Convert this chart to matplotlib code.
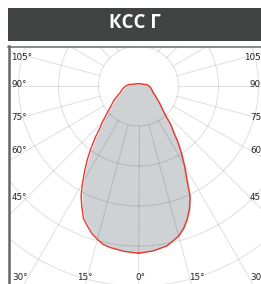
import numpy as np
import matplotlib
matplotlib.use("Agg")
import matplotlib.pyplot as plt
from matplotlib.patches import Rectangle
from matplotlib.lines import Line2D
import matplotlib.transforms as mtransforms

# ---- data (cd/klm) ----
angles_deg = [0, 5, 10, 12.5, 15, 17.5, 20, 22.5, 25, 27.5, 30, 32.5, 35, 37.5,
              40, 42.5, 45, 50, 55, 60, 65, 70, 75, 80, 85, 90, 95, 100, 110,
              120, 135, 150, 165, 180]
right_vals = [418, 414, 406, 397, 388, 374, 355, 333, 305, 261, 230, 200, 172,
              143, 125, 100, 87, 70, 57, 48, 41, 37, 34, 31, 29, 26, 24, 20, 13,
              10, 8, 6.5, 6, 6]
left_vals = [418, 415, 410, 406, 397, 387, 373, 359, 335, 311, 280, 250, 222,
             194, 168, 143, 128, 100, 82, 71, 58, 49, 44, 40, 36, 32, 27, 23, 13,
             10, 8, 6.5, 6, 6]
ring_values = [100, 200, 300, 400, 500]
spoke_angles = list(range(0, 360, 15))
title = "КСС Г"
side_labels = ["105°", "90°", "75°", "60°", "45°"]
bottom_labels = ["30°", "15°", "0°", "15°", "30°"]

W, H = 261, 284
fig = plt.figure(figsize=(W / 100, H / 100), dpi=100)
fig.patch.set_facecolor("white")

def fx(x):
    return x / W

def fy(y):
    return 1 - y / H

# polar axes: centre at pixel (138.5, 86), 240 px = 600 units
cx, cy, R = 138.5, 86, 240
ax = fig.add_axes([fx(cx - R), fy(cy + R), 2 * R / W, 2 * R / H], projection="polar")
ax.set_theta_zero_location("S")
ax.set_theta_direction(1)
ax.set_ylim(0, 600)
ax.set_xticks([])
ax.set_yticks([])
ax.grid(False)
ax.spines["polar"].set_visible(False)
ax.patch.set_visible(False)

clip = Rectangle((fx(9.5), 0), fx(W - 9.5), fy(47.5), transform=fig.transFigure,
                 facecolor="none", edgecolor="none")
fig.add_artist(clip)
clip.set_visible(False)

# curve
theta = np.deg2rad(np.concatenate([angles_deg, -np.array(angles_deg[::-1])]))
rad = np.concatenate([right_vals, left_vals[::-1]])

off = mtransforms.ScaledTranslation(1.3 / 100, -0.4 / 100, fig.dpi_scale_trans)
ax.fill(theta, rad, color="#cfd2d5", zorder=1, lw=0, transform=ax.transData + off)

grid_kw = dict(color="black", alpha=0.12, lw=0.75, zorder=2)
full = np.linspace(0, 2 * np.pi, 400)
for rv in ring_values:
    ln, = ax.plot(full, np.full_like(full, rv), **grid_kw)
    ln.set_clip_path(clip)
for a in spoke_angles:
    t = np.deg2rad(a)
    ln, = ax.plot([t, t], [ring_values[0], 600], **grid_kw)
    ln.set_clip_path(clip)

ax.plot(theta, rad, color="#e8392c", lw=1.0, zorder=3)

# title bar
fig.add_artist(Rectangle((fx(8), fy(41)), fx(W - 8), 33 / H, transform=fig.transFigure,
                         facecolor="#414342", edgecolor="none", zorder=5))
fig.text(fx(134.5), fy(23.5), title, color="white", fontsize=13.5, fontweight="bold",
         family="Open Sans", ha="center", va="center", zorder=6)

# frame
fig.add_artist(Line2D([fx(8), fx(W)], [fy(46.7), fy(46.7)], transform=fig.transFigure,
                      color="#6a6a6a", lw=1.1, zorder=5))
fig.add_artist(Line2D([fx(8.7), fx(8.7)], [fy(46), 0], transform=fig.transFigure,
                      color="#666666", lw=1.8, zorder=5))

# angle labels
lab_kw = dict(fontsize=6.3, color="#222222", va="center", family="DejaVu Sans")
side_y = [57, 85, 117, 150.5, 197]
for lab, y in zip(side_labels, side_y):
    fig.text(fx(11.5), fy(y), lab, ha="left", **lab_kw)
    fig.text(fx(265.5), fy(y), lab, ha="right", **lab_kw)
bottom_x = [12, 85, 140, 197, 265.5]
bottom_ha = ["left", "center", "center", "center", "right"]
for lab, x, ha in zip(bottom_labels, bottom_x, bottom_ha):
    fig.text(fx(x), fy(278), lab, ha=ha, **lab_kw)

fig.savefig("out.png", dpi=100)
